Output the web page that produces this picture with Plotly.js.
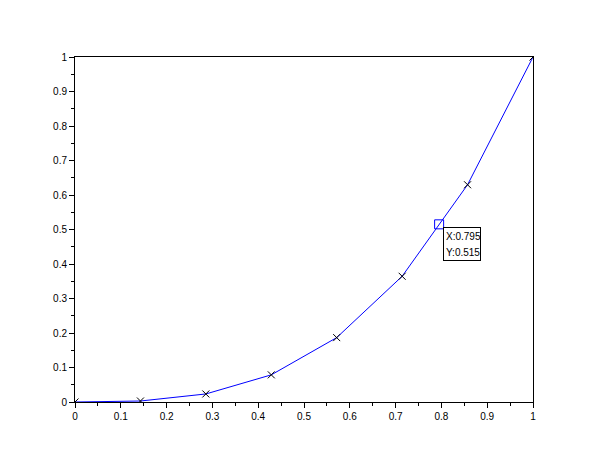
<!DOCTYPE html>
<html><head><meta charset="utf-8">
<script src="https://cdn.plot.ly/plotly-3.0.1.min.js"></script>
<style>body{margin:0;background:#fff}#c{width:610px;height:460px}</style>
</head><body><div id="c"></div>
<script>
const xVals = [0, 0.1429, 0.2857, 0.4286, 0.5714, 0.7143, 0.8571, 1];
const yVals = [0, 0.0029, 0.0233, 0.0787, 0.1866, 0.3644, 0.6297, 1];
const tipX = [0.795];
const tipY = [0.515];
const tipLines = ['X:0.795', 'Y:0.515'];

const traces = [
  {x: xVals, y: yVals, mode: 'lines+markers', type: 'scatter',
   line: {color: '#0000ff', width: 1},
   marker: {symbol: 'x-thin', size: 7, color: '#000', line: {color: '#000', width: 1}},
   cliponaxis: true, hoverinfo: 'none'},
  {x: tipX, y: tipY, mode: 'markers', type: 'scatter',
   marker: {symbol: 'square-open', size: 9, color: '#0000ff', line: {color: '#0000ff', width: 1}},
   hoverinfo: 'none'}
];

const axisBase = {
  range: [0, 1], dtick: 0.1, ticks: 'outside', ticklen: 5, tickwidth: 1, tickcolor: '#000',
  showgrid: false, zeroline: false, showline: true, linecolor: '#000', linewidth: 1, mirror: true,
  tickfont: {family: 'Liberation Sans, Arial, sans-serif', size: 10, color: '#000'},
  minor: {ticks: 'outside', ticklen: 3, tickwidth: 1, tickcolor: '#000', dtick: 0.05, showgrid: false},
  fixedrange: true
};

const tipFont = {family: 'Liberation Sans, Arial, sans-serif', size: 10, color: '#000'};

const layout = {
  width: 610, height: 460,
  margin: {l: 75, r: 77, t: 57, b: 58},
  paper_bgcolor: '#fff', plot_bgcolor: '#fff',
  showlegend: false,
  xaxis: Object.assign({}, axisBase),
  yaxis: Object.assign({}, axisBase),
  annotations: [
    {x: tipX[0], y: tipY[0], xref: 'x', yref: 'y', text: ' ', showarrow: false,
     xanchor: 'left', yanchor: 'top', xshift: 4, yshift: -3, width: 36, height: 32,
     bordercolor: '#000', borderwidth: 1, borderpad: 0, bgcolor: '#fff', font: tipFont},
    {x: tipX[0], y: tipY[0], xref: 'x', yref: 'y', text: tipLines[0], showarrow: false,
     xanchor: 'left', yanchor: 'middle', xshift: 6, yshift: -12.5, borderpad: 0, font: tipFont},
    {x: tipX[0], y: tipY[0], xref: 'x', yref: 'y', text: tipLines[1], showarrow: false,
     xanchor: 'left', yanchor: 'middle', xshift: 6, yshift: -28.5, borderpad: 0, font: tipFont}
  ]
};

Plotly.newPlot('c', traces, layout, {displayModeBar: false, staticPlot: true});
</script>
</body></html>
